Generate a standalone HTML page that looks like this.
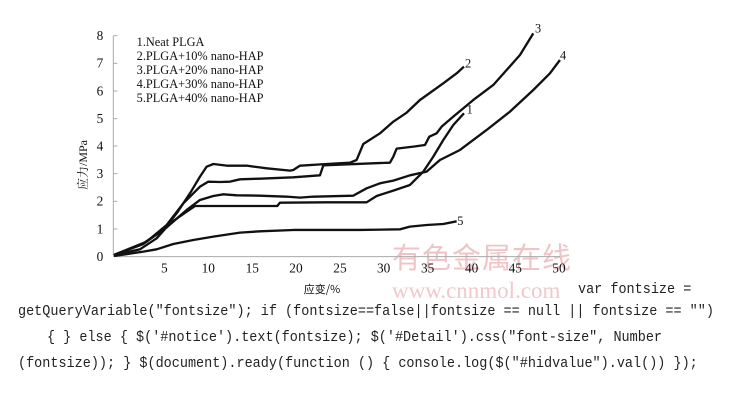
<!DOCTYPE html>
<html><head><meta charset="utf-8"><style>
body{margin:0;width:730px;height:413px;background:#fff;overflow:hidden;position:relative;font-family:"Liberation Serif","Noto Serif CJK SC",serif}
.code{position:absolute;font-family:"Liberation Mono","Noto Sans CJK SC",monospace;font-size:14.5px;color:#222;white-space:pre;transform:scaleX(0.93);transform-origin:left top}
</style></head><body>
<svg width="730" height="413" style="position:absolute;left:0;top:0">
<g font-family="Liberation Serif, serif" fill="#111">
<text x="392" y="268" font-size="29" fill="#f0c4c7" font-family="Noto Sans CJK SC, sans-serif" letter-spacing="1">有色金属在线</text>
<text x="392" y="298" font-size="23" fill="#f2c8cb">www.cnnmol.com</text>
<g transform="translate(60,20) scale(0.3333)">
<line x1="160" y1="47" x2="160" y2="710" stroke="#aaa" stroke-width="3"/>
<line x1="160" y1="710" x2="1500" y2="710" stroke="#aaa" stroke-width="3"/>
<g stroke="#aaa" stroke-width="3">
<line x1="160" y1="47" x2="172" y2="47"/><line x1="160" y1="130" x2="172" y2="130"/><line x1="160" y1="213" x2="172" y2="213"/><line x1="160" y1="296" x2="172" y2="296"/><line x1="160" y1="378" x2="172" y2="378"/><line x1="160" y1="461" x2="172" y2="461"/><line x1="160" y1="544" x2="172" y2="544"/><line x1="160" y1="627" x2="172" y2="627"/>
</g>
<g font-size="40" text-anchor="middle">
<text x="120" y="60">8</text><text x="120" y="143">7</text><text x="120" y="226">6</text><text x="120" y="309">5</text><text x="120" y="391">4</text><text x="120" y="474">3</text><text x="120" y="557">2</text><text x="120" y="640">1</text><text x="120" y="723">0</text>
<text x="313" y="757">5</text><text x="445" y="757">10</text><text x="577" y="757">15</text><text x="708" y="757">20</text><text x="840" y="757">25</text><text x="971" y="757">30</text><text x="1103" y="757">35</text><text x="1235" y="757">40</text><text x="1366" y="757">45</text><text x="1497" y="757">50</text>
</g>
<g font-size="37">
<text x="230" y="78">1.Neat PLGA</text><text x="230" y="120">2.PLGA+10% nano-HAP</text><text x="230" y="162">3.PLGA+20% nano-HAP</text><text x="230" y="204">4.PLGA+30% nano-HAP</text><text x="230" y="246">5.PLGA+40% nano-HAP</text>
<text x="1220" y="280">1</text><text x="1215" y="142">2</text><text x="1425" y="38">3</text><text x="1500" y="118">4</text><text x="1192" y="615">5</text>
</g>
<g fill="none" stroke="#111" stroke-width="7" stroke-linejoin="round">
<polyline points="162,705 250,670 310,630 350,580 390,520 420,470 440,440 460,432 500,437 560,437 620,445 690,452 700,450 720,437 800,432 870,428 890,420 910,372 960,340 1000,305 1040,278 1080,240 1150,190 1190,160 1212,140"/>
<polyline points="162,705 260,665 320,615 370,550 420,500 445,485 480,486 510,485 540,478 600,476 700,472 780,466 790,436 990,428 1000,410 1010,386 1060,380 1095,375 1108,350 1130,340 1145,320 1180,290 1240,240 1300,195 1340,150 1380,105 1420,40"/>
<polyline points="162,705 250,672 320,622 380,570 420,540 460,528 490,523 530,526 600,527 680,530 720,533 760,530 880,527 920,505 960,490 1000,482 1050,466 1100,455 1140,420 1200,390 1280,330 1350,275 1420,210 1470,160 1500,120"/>
<polyline points="162,705 240,688 290,655 330,610 380,575 405,558 460,558 560,558 652,558 660,548 800,547 920,547 950,528 1000,512 1050,495 1090,455 1120,410 1150,360 1180,315 1212,280"/>
<polyline points="162,708 250,695 290,688 340,672 400,660 460,650 540,638 600,634 700,630 900,630 1020,628 1050,620 1100,615 1150,612 1190,604"/>
</g>
</g>
<text x="87" y="165" font-size="12" text-anchor="middle" transform="rotate(-90 87 165)" font-family="Liberation Serif, Noto Serif CJK SC, serif">应力/MPa</text>
<text x="322" y="293" font-size="11" text-anchor="middle" font-family="Noto Sans CJK SC, sans-serif">应变/%</text>
</g>
</svg>
<div class="code" style="left:578px;top:282px">var fontsize =</div>
<div class="code" style="left:18px;top:304px">getQueryVariable("fontsize"); if (fontsize==false||fontsize == null || fontsize == "")</div>
<div class="code" style="left:47px;top:330px">{ } else { $('#notice').text(fontsize); $('#Detail').css("font-size", Number</div>
<div class="code" style="left:18px;top:356px">(fontsize)); } $(document).ready(function () { console.log($("#hidvalue").val()) });</div>
</body></html>
